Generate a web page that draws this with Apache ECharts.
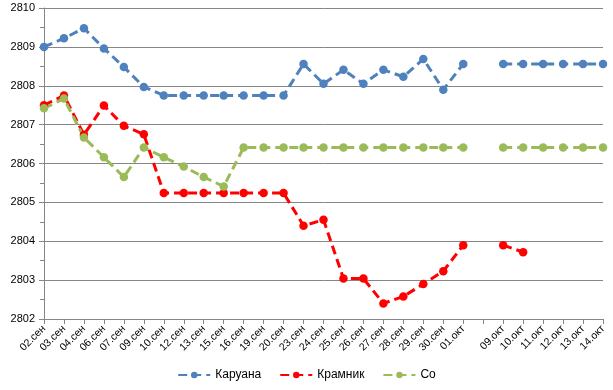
<!DOCTYPE html>
<html><head><meta charset="utf-8">
<script src="https://cdn.jsdelivr.net/npm/echarts@6/dist/echarts.min.js"></script>
<style>html,body{margin:0;padding:0;background:#fff}#c{width:613px;height:390px}</style>
</head><body><div id="c"></div>
<script>
var categories = ['02.сен','03.сен','04.сен','06.сен','07.сен','09.сен','10.сен','12.сен','13.сен','15.сен','16.сен','19.сен','20.сен','23.сен','24.сен','25.сен','26.сен','27.сен','28.сен','29.сен','30.сен','01.окт','','09.окт','10.окт','11.окт','12.окт','13.окт','14.окт'];
var caruana = [2809.0,2809.22,2809.48,2808.96,2808.48,2807.97,2807.75,2807.75,2807.75,2807.75,2807.75,2807.75,2807.75,2808.56,2808.05,2808.41,2808.05,2808.41,2808.23,2808.69,2807.9,2808.56,null,2808.56,2808.56,2808.56,2808.56,2808.56,2808.56];
var kramnik = [2807.5,2807.75,2806.74,2807.49,2806.97,2806.75,2805.24,2805.24,2805.24,2805.24,2805.24,2805.24,2805.24,2804.4,2804.55,2803.04,2803.04,2802.4,2802.58,2802.9,2803.23,2803.9,null,2803.9,2803.72,null,null,null,null];
var so = [2807.42,2807.67,2806.67,2806.16,2805.65,2806.41,2806.16,2805.92,2805.65,2805.41,2806.41,2806.41,2806.41,2806.41,2806.41,2806.41,2806.41,2806.41,2806.41,2806.41,2806.41,2806.41,null,2806.41,2806.41,2806.41,2806.41,2806.41,2806.41];
var yTicks = {min: 2802, max: 2810, step: 1};

var font = 'Liberation Sans';
function mk(name, data, color) {
  return {
    name: name, type: 'line', data: data,
    symbol: 'circle', symbolSize: 8.5,
    itemStyle: {color: color},
    lineStyle: {color: color, width: 3, type: [9, 5]},
    connectNulls: false, animation: false
  };
}
var chart = echarts.init(document.getElementById('c'));
chart.setOption({
  animation: false,
  textStyle: {fontFamily: font},
  grid: {left: 44, right: 10, top: 8, bottom: 71, containLabel: false},
  xAxis: {
    type: 'category', data: categories, boundaryGap: false,
    axisLine: {lineStyle: {color: '#868686'}},
    axisTick: {show: true, interval: 0, length: 5, lineStyle: {color: '#868686'}},
    axisLabel: {interval: 0, rotate: 45, fontSize: 10.5, color: '#000', fontFamily: font, margin: 8},
    splitLine: {show: false}
  },
  yAxis: {
    type: 'value', min: yTicks.min, max: yTicks.max, interval: yTicks.step,
    axisLine: {show: true, lineStyle: {color: '#868686'}},
    axisTick: {show: true, length: 5, lineStyle: {color: '#868686'}},
    minorTick: {show: true, splitNumber: 2, length: 4, lineStyle: {color: '#868686'}},
    axisLabel: {fontSize: 11, color: '#000', fontFamily: font, margin: 9, formatter: function (v) { return String(v); }},
    splitLine: {lineStyle: {color: '#868686', width: 1}}
  },
  legend: {
    bottom: 4, left: 'center', itemWidth: 32, itemHeight: 8, itemGap: 18,
    textStyle: {fontSize: 12, color: '#000', fontFamily: font},
    data: ['Каруана','Крамник','Со']
  },
  series: [
    mk('Каруана', caruana, '#4F81BD'),
    mk('Крамник', kramnik, '#FF0000'),
    mk('Со', so, '#9BBB59')
  ]
});
</script></body></html>
